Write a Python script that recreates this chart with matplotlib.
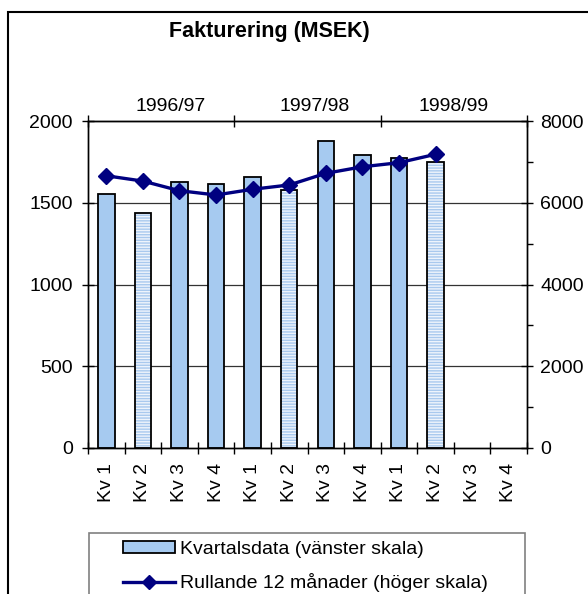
import numpy as np
import matplotlib.pyplot as plt
from matplotlib.patches import Rectangle

plt.rcParams['font.family'] = ['Liberation Sans', 'DejaVu Sans']

# data
kvartal = ["Kv 1", "Kv 2", "Kv 3", "Kv 4"] * 3
år = ["1996/97", "1997/98", "1998/99"]
kvartalsdata = [1555, 1440, 1625, 1615, 1655, 1580, 1875, 1795, 1775, 1750, np.nan, np.nan]
rullande = [6660, 6530, 6295, 6190, 6330, 6435, 6720, 6880, 6980, 7185, np.nan, np.nan]

blue = "#A6CAF0"
navy = "#000080"

fig = plt.figure(figsize=(5.88, 5.94), dpi=100)
W, H = 588, 594
ax = fig.add_axes([88 / W, 1 - 448 / H, (527 - 88) / W, (448 - 121) / H])
ax2 = ax.twinx()

x = np.arange(len(kvartal)) + 0.5
hatched = [k == "Kv 2" for k in kvartal]

# bars: solid for all but Kv 2, striped for Kv 2
for xi, v, h in zip(x, kvartalsdata, hatched):
    if np.isnan(v):
        continue
    if h:
        ax.bar(xi, v, width=0.45, color="#eef4fc", edgecolor="#a9c9ee", hatch="------", lw=0, zorder=2)
        ax.bar(xi, v, width=0.45, fill=False, edgecolor="black", lw=1.3, zorder=3)
    else:
        ax.bar(xi, v, width=0.45, color=blue, edgecolor="black", lw=1.3, zorder=2)

ax2.plot(x, rullande, color=navy, lw=2.4, marker="D", markersize=8, zorder=5)

ax.set_xlim(0, 12)
ax.set_ylim(0, 2000)
ax2.set_ylim(0, 8000)

# gridlines
for g in [500, 1000, 1500]:
    ax.axhline(g, color="#333333", lw=0.9, zorder=1)

# left axis
ax.set_yticks([0, 500, 1000, 1500, 2000])
ax.tick_params(axis="y", direction="inout", length=8, width=1, pad=7, labelsize=14)

# bottom axis: boundary ticks, labels at centres
ax.set_xticks(np.arange(0, 13))
ax.set_xticklabels([])
ax.set_xticks(x, minor=True)
ax.set_xticklabels(kvartal, minor=True, rotation=90)
ax.tick_params(axis="x", which="major", direction="inout", length=9, width=1)
ax.tick_params(axis="x", which="minor", length=0, pad=11, labelsize=14)

# right axis
ax2.set_yticks([0, 2000, 4000, 6000, 8000])
ax2.set_yticks([1000, 3000, 5000, 7000], minor=True)
ax2.tick_params(axis="y", which="major", direction="inout", length=8, width=1, pad=5.5, labelsize=14)
ax2.tick_params(axis="y", which="minor", direction="out", length=4, width=1)

# top axis with year groups
top = ax.secondary_xaxis("top")
top.set_xticks([0, 4, 8, 12])
top.set_xticklabels([])
top.set_xticks([2.25, 6.2, 10], minor=True)
top.set_xticklabels(år, minor=True)
top.tick_params(axis="x", which="major", direction="inout", length=9, width=1)
top.tick_params(axis="x", which="minor", length=0, pad=4, labelsize=14)

for a in (ax, ax2):
    for s in a.spines.values():
        s.set_linewidth(1)
        s.set_color("black")

fig.text(269 / W, 1 - 32 / H, "Fakturering (MSEK)", ha="center", va="center",
         fontsize=15.5, fontweight="bold")

# legend (frame drawn separately, runs past the bottom edge)
bar_h = Rectangle((0, 0), 1, 1, facecolor=blue, edgecolor="black", lw=1.3)
line_h, = ax.plot([], [], color=navy, lw=2.4, marker="D", markersize=7)
leg = fig.legend([bar_h, line_h],
                 ["Kvartalsdata (vänster skala)", "Rullande 12 månader (höger skala)"],
                 loc="upper left", bbox_to_anchor=(123 / W, 1 - 541 / H),
                 fontsize=14, handlelength=2.65, handletextpad=0.3, handleheight=0.6,
                 labelspacing=0.78, borderpad=0, borderaxespad=0, frameon=False)
for t in leg.get_texts():
    t.set_color("black")
fig.patches.append(Rectangle((89 / W, -0.1), (525 - 89) / W, 0.1 + 1 - 533 / H,
                             transform=fig.transFigure, fill=False,
                             edgecolor="#808080", lw=1.2))

# chart border
fig.patches.append(Rectangle((8 / W, -0.1), 1.2, 1 - 12 / H + 0.1, transform=fig.transFigure,
                             fill=False, edgecolor="black", lw=1.5))

plt.savefig("out.png")
